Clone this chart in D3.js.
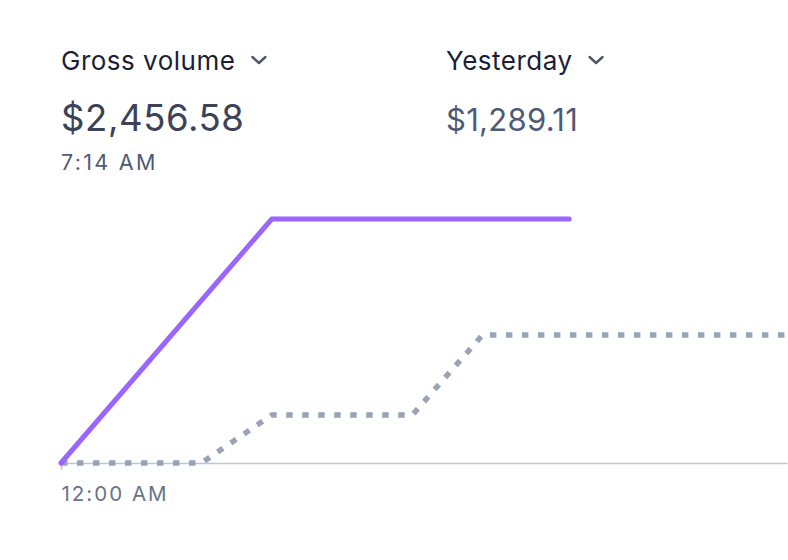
<!DOCTYPE html>
<meta charset="utf-8">
<style>
body { margin: 0; background: #fff; }
svg { display: block; font-family: Inter, "Noto Sans", sans-serif; }
.axis path.domain { stroke: #bcc6d6; stroke-width: 1.5; }
.axis .tick line { stroke: #bcc6d6; stroke-width: 1.5; }
.axis .tick text { fill: #697386; font-size: 20.5px; letter-spacing: 2px; font-family: Inter, sans-serif; }
</style>
<body>
<script src="https://cdn.jsdelivr.net/npm/d3@7"></script>
<script>
// metric headers
const metricNames = ["Gross volume", "Yesterday"];
const metricTotals = ["$2,456.58", "$1,289.11"];
const currentTime = "7:14 AM";

// today: minutes after midnight, cumulative volume
const todayMinutes = [0, 180, 434];
const todayValues = [0, 2456.58, 2456.58];

// yesterday, same clock
const yesterdayMinutes = [0, 120, 180, 300, 360, 620];
const yesterdayValues = [0, 0, 483, 483, 1289.11, 1289.11];

const axisTicks = [0];
const axisLabels = ["12:00 AM"];

const width = 788, height = 560;

const svg = d3.select("body").append("svg")
    .attr("width", width)
    .attr("height", height);

const x = d3.scaleLinear().domain([0, 620]).range([61, 787]);
const y = d3.scaleLinear().domain([0, 2456.58]).range([463, 219]);

// header text
const hx = [61, 446];
const head = svg.selectAll("g.head")
    .data(metricNames)
  .enter().append("g")
    .attr("class", "head")
    .attr("transform", (d, i) => "translate(" + hx[i] + ",0)");

head.append("text")
    .attr("y", 70)
    .attr("fill", "#1a1f36")
    .style("font-size", "26px")
    .style("letter-spacing", "0.5px")
    .text(d => d);

head.each(function(d, i) {
  const w = this.querySelector("text").getComputedTextLength();
  d3.select(this).append("path")
    .attr("d", "M" + (w + 17) + ",57 l6.5,6 l6.5,-6")
    .attr("fill", "none")
    .attr("stroke", "#4f566b")
    .attr("stroke-width", 2.4)
    .attr("stroke-linecap", "round")
    .attr("stroke-linejoin", "round");
});

head.append("text")
    .attr("y", 131)
    .attr("fill", (d, i) => i == 0 ? "#3c4257" : "#4f5b76")
    .style("font-size", (d, i) => i == 0 ? "36.5px" : "31px")
    .style("letter-spacing", (d, i) => i == 0 ? "0.6px" : "0.3px")
    .text((d, i) => metricTotals[i]);

svg.append("text")
    .attr("x", 61)
    .attr("y", 169.5)
    .attr("fill", "#4f5b76")
    .style("font-size", "21.5px")
    .style("letter-spacing", "2.3px")
    .text(currentTime);

// baseline axis
svg.append("g")
    .attr("class", "axis")
    .attr("transform", "translate(0," + y(0) + ")")
    .call(d3.axisBottom(x)
      .tickValues(axisTicks)
      .tickFormat((d, i) => axisLabels[i])
      .tickSize(7)
      .tickSizeOuter(0)
      .tickPadding(16))
    .selectAll(".tick text")
    .attr("text-anchor", "start");

const line = d3.line()
    .x(d => x(d[0]))
    .y(d => y(d[1]));

svg.append("path")
    .datum(d3.zip(yesterdayMinutes, yesterdayValues))
    .attr("d", line)
    .attr("fill", "none")
    .attr("stroke", "#9aa3b5")
    .attr("stroke-width", 5.5)
    .attr("stroke-dasharray", "6.5 9.5");

svg.append("path")
    .datum(d3.zip(todayMinutes, todayValues))
    .attr("d", line)
    .attr("fill", "none")
    .attr("stroke", "#9966ff")
    .attr("stroke-width", 5)
    .attr("stroke-linecap", "round");
</script>
